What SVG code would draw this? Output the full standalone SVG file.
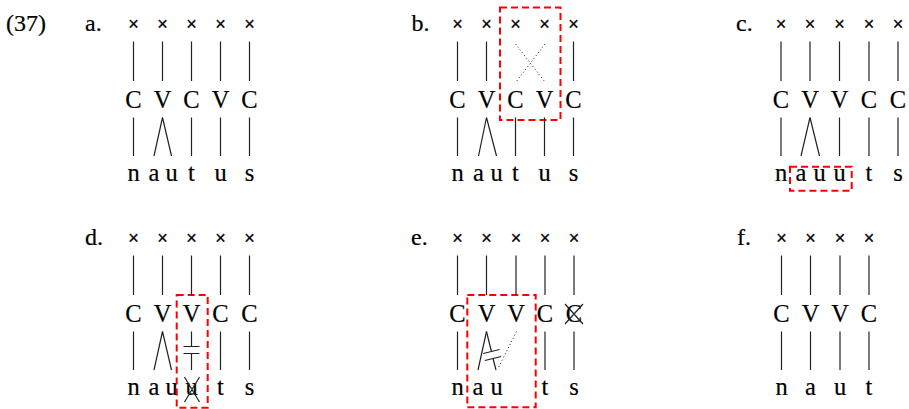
<svg xmlns="http://www.w3.org/2000/svg" width="909" height="409" viewBox="0 0 909 409">
<style>
.t{font-family:"Liberation Serif",serif;font-size:24.5px;fill:#000;stroke:#000;stroke-width:0.2;text-anchor:middle}
.l{font-family:"Liberation Serif",serif;font-size:24px;fill:#000;stroke:#000;stroke-width:0.2}
.x{font-family:"Liberation Sans",sans-serif;font-size:18px;fill:#000;stroke:#000;stroke-width:0.3;text-anchor:middle}
.ln{stroke:#222;stroke-width:1.2;fill:none}
.dt{stroke:#222;stroke-width:1;stroke-dasharray:1 2.5;fill:none}
.bx{stroke:#ff0000;stroke-width:2;stroke-dasharray:7 4;fill:none}
</style>
<rect width="909" height="409" fill="#fff"/>
<text class="l" x="6" y="31">(37)</text>
<text class="l" x="85" y="31">a.</text>
<text class="l" x="411.5" y="31">b.</text>
<text class="l" x="736" y="31">c.</text>
<text class="l" x="85" y="245">d.</text>
<text class="l" x="411" y="245">e.</text>
<text class="l" x="737" y="245">f.</text>

<!-- panel a -->
<g id="a-x1"><text class="x" x="133.5" y="29.7">×</text></g>
<g id="a-x2"><text class="x" x="162.5" y="29.7">×</text></g>
<g id="a-x3"><text class="x" x="191.5" y="29.7">×</text></g>
<g id="a-x4"><text class="x" x="220.5" y="29.7">×</text></g>
<g id="a-x5"><text class="x" x="249.5" y="29.7">×</text></g>
<g id="a-C1"><text class="t" x="133.5" y="107.5">C</text></g>
<g id="a-V1"><text class="t" x="162.5" y="107.5">V</text></g>
<g id="a-C2"><text class="t" x="191.5" y="107.5">C</text></g>
<g id="a-V2"><text class="t" x="220.5" y="107.5">V</text></g>
<g id="a-C3"><text class="t" x="249.5" y="107.5">C</text></g>
<g id="a-n"><text class="t" x="133.5" y="181">n</text></g>
<g id="a-a"><text class="t" x="154" y="181">a</text></g>
<g id="a-u1"><text class="t" x="171.5" y="181">u</text></g>
<g id="a-t"><text class="t" x="191.5" y="181">t</text></g>
<g id="a-u2"><text class="t" x="220.5" y="181">u</text></g>
<g id="a-s"><text class="t" x="249.5" y="181">s</text></g>

<!-- panel b -->
<g id="b-x1"><text class="x" x="457.5" y="29.7">×</text></g>
<g id="b-x2"><text class="x" x="486.5" y="29.7">×</text></g>
<g id="b-x3"><text class="x" x="515.5" y="29.7">×</text></g>
<g id="b-x4"><text class="x" x="544.5" y="29.7">×</text></g>
<g id="b-x5"><text class="x" x="573.5" y="29.7">×</text></g>
<g id="b-C1"><text class="t" x="457.5" y="107.5">C</text></g>
<g id="b-V1"><text class="t" x="486.5" y="107.5">V</text></g>
<g id="b-C2"><text class="t" x="515.5" y="107.5">C</text></g>
<g id="b-V2"><text class="t" x="544.5" y="107.5">V</text></g>
<g id="b-C3"><text class="t" x="573.5" y="107.5">C</text></g>
<g id="b-n"><text class="t" x="457.5" y="181">n</text></g>
<g id="b-a"><text class="t" x="478.5" y="181">a</text></g>
<g id="b-u1"><text class="t" x="496.5" y="181">u</text></g>
<g id="b-t"><text class="t" x="515.5" y="181">t</text></g>
<g id="b-u2"><text class="t" x="544.5" y="181">u</text></g>
<g id="b-s"><text class="t" x="573.5" y="181">s</text></g>
<g id="b-box"><rect class="bx" x="500" y="7.5" width="60.5" height="112.5"/></g>

<!-- panel c -->
<g id="c-x1"><text class="x" x="781" y="29.7">×</text></g>
<g id="c-x2"><text class="x" x="810" y="29.7">×</text></g>
<g id="c-x3"><text class="x" x="839.5" y="29.7">×</text></g>
<g id="c-x4"><text class="x" x="869" y="29.7">×</text></g>
<g id="c-x5"><text class="x" x="898" y="29.7">×</text></g>
<g id="c-C1"><text class="t" x="781" y="107.5">C</text></g>
<g id="c-V1"><text class="t" x="810" y="107.5">V</text></g>
<g id="c-V2"><text class="t" x="839.5" y="107.5">V</text></g>
<g id="c-C2"><text class="t" x="869" y="107.5">C</text></g>
<g id="c-C3"><text class="t" x="898" y="107.5">C</text></g>
<g id="c-n"><text class="t" x="781" y="181">n</text></g>
<g id="c-a"><text class="t" x="801" y="181">a</text></g>
<g id="c-u1"><text class="t" x="819.5" y="181">u</text></g>
<g id="c-u2"><text class="t" x="839.5" y="181">u</text></g>
<g id="c-t"><text class="t" x="869" y="181">t</text></g>
<g id="c-s"><text class="t" x="898" y="181">s</text></g>
<g id="c-box"><rect class="bx" x="790" y="166.7" width="61.7" height="24"/></g>

<!-- panel d -->
<g id="d-x1"><text class="x" x="133.5" y="243.7">×</text></g>
<g id="d-x2"><text class="x" x="162.5" y="243.7">×</text></g>
<g id="d-x3"><text class="x" x="191.5" y="243.7">×</text></g>
<g id="d-x4"><text class="x" x="220.5" y="243.7">×</text></g>
<g id="d-x5"><text class="x" x="249.5" y="243.7">×</text></g>
<g id="d-C1"><text class="t" x="133.5" y="321.5">C</text></g>
<g id="d-V1"><text class="t" x="162.5" y="321.5">V</text></g>
<g id="d-V2"><text class="t" x="191.5" y="321.5">V</text></g>
<g id="d-C2"><text class="t" x="220.5" y="321.5">C</text></g>
<g id="d-C3"><text class="t" x="249.5" y="321.5">C</text></g>
<g id="d-n"><text class="t" x="133.5" y="395">n</text></g>
<g id="d-a"><text class="t" x="154" y="395">a</text></g>
<g id="d-u1"><text class="t" x="171.5" y="395">u</text></g>
<g id="d-u2"><text class="t" x="191.5" y="395">u</text><path class="ln" d="M184.5 377L199.5 402M199.5 377L184.5 402"/></g>
<g id="d-t"><text class="t" x="220.5" y="395">t</text></g>
<g id="d-s"><text class="t" x="249.5" y="395">s</text></g>
<g id="d-box"><rect class="bx" x="176.7" y="295" width="31" height="112.7"/></g>

<!-- panel e -->
<g id="e-x1"><text class="x" x="457.5" y="243.7">×</text></g>
<g id="e-x2"><text class="x" x="486.5" y="243.7">×</text></g>
<g id="e-x3"><text class="x" x="516" y="243.7">×</text></g>
<g id="e-x4"><text class="x" x="545" y="243.7">×</text></g>
<g id="e-x5"><text class="x" x="574" y="243.7">×</text></g>
<g id="e-C1"><text class="t" x="457.5" y="321.5">C</text></g>
<g id="e-V1"><text class="t" x="486.5" y="321.5">V</text></g>
<g id="e-V2"><text class="t" x="516" y="321.5">V</text></g>
<g id="e-C2"><text class="t" x="545" y="321.5">C</text></g>
<g id="e-C3"><text class="t" x="574" y="321.5">C</text><path class="ln" d="M565 304L583 324M583 304L565 324"/></g>
<g id="e-n"><text class="t" x="457.5" y="395">n</text></g>
<g id="e-a"><text class="t" x="478" y="395">a</text></g>
<g id="e-u"><text class="t" x="496.5" y="395">u</text></g>
<g id="e-t"><text class="t" x="545" y="395">t</text></g>
<g id="e-s"><text class="t" x="574" y="395">s</text></g>
<g id="e-box"><rect class="bx" x="467.3" y="295" width="68.4" height="112.3"/></g>

<!-- panel f -->
<g id="f-x1"><text class="x" x="781.5" y="243.7">×</text></g>
<g id="f-x2"><text class="x" x="810.5" y="243.7">×</text></g>
<g id="f-x3"><text class="x" x="840" y="243.7">×</text></g>
<g id="f-x4"><text class="x" x="869" y="243.7">×</text></g>
<g id="f-C1"><text class="t" x="781.5" y="321.5">C</text></g>
<g id="f-V1"><text class="t" x="810.5" y="321.5">V</text></g>
<g id="f-V2"><text class="t" x="840" y="321.5">V</text></g>
<g id="f-C2"><text class="t" x="869" y="321.5">C</text></g>
<g id="f-n"><text class="t" x="781.5" y="395">n</text></g>
<g id="f-a"><text class="t" x="810.5" y="395">a</text></g>
<g id="f-u"><text class="t" x="840" y="395">u</text></g>
<g id="f-t"><text class="t" x="869" y="395">t</text></g>

<g id="connectors">
<!-- a -->
<path class="ln" d="M133.5 41.5V81M162.5 41.5V81M191.5 41.5V81M220.5 41.5V81M249.5 41.5V81"/>
<path class="ln" d="M133.5 117.5V156M162.5 117.5L154 156M162.5 117.5L171.5 156M191.5 117.5V156M220.5 117.5V156M249.5 117.5V156"/>
<!-- b -->
<path class="ln" d="M457.5 41.5V81M486.5 41.5V81M573.5 41.5V81"/>
<path class="dt" d="M515.5 44L545 82M545 44L516 82"/>
<path class="ln" d="M457.5 117.5V156M486.5 117.5L478.5 156M486.5 117.5L496.5 156M515.5 117.5V156M544.5 117.5V156M573.5 117.5V156"/>
<!-- c -->
<path class="ln" d="M781 41.5V81M810 41.5V81M839.5 41.5V81M869 41.5V81M898 41.5V81"/>
<path class="ln" d="M781 117.5V156M810 117.5L801 156M810 117.5L819.5 156M839.5 117.5V156M869 117.5V156M898 117.5V156"/>
<!-- d -->
<path class="ln" d="M133.5 255.5V295M162.5 255.5V295M191.5 255.5V295M220.5 255.5V295M249.5 255.5V295"/>
<path class="ln" d="M133.5 331.5V370M162.5 331.5L154 370M162.5 331.5L171.5 370M220.5 331.5V370M249.5 331.5V370"/>
<path class="ln" d="M191.5 331.5V346.5M183.5 346.5H199.5M183.5 353.5H199.5M191.5 353.5V370"/>
<!-- e -->
<path class="ln" d="M457.5 255.5V295M486.5 255.5V295M516 255.5V295M545 255.5V295M574 255.5V295"/>
<path class="ln" d="M457.5 331.5V370M486.5 331.5L478 370M545 331.5V370M574 331.5V370"/>
<path class="ln" d="M486.5 331.5L491.4 351.5M492.9 358L496 370M483.2 353.5L499.6 349.5M484.8 360.5L501.2 356.5"/>
<path class="dt" d="M516.5 331.5L498 368.5"/>
<!-- f -->
<path class="ln" d="M781.5 255.5V295M810.5 255.5V295M840 255.5V295M869 255.5V295"/>
<path class="ln" d="M781.5 331.5V370M810.5 331.5V370M840 331.5V370M869 331.5V370"/>
</g>
</svg>
